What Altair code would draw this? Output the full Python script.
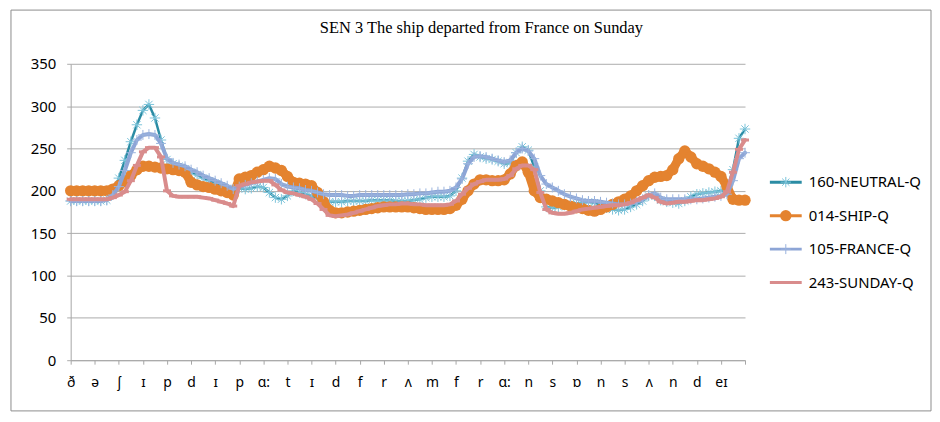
import json
import pandas as pd
import altair as alt

TITLE = "SEN 3 The ship departed from France on Sunday"
PHONEMES = ["ð", "ə", "ʃ", "ɪ", "p", "d", "ɪ", "p", "ɑ:", "t", "ɪ", "d", "f", "r",
            "ʌ", "m", "f", "r", "ɑ:", "n", "s", "ɒ", "n", "s", "ʌ", "n", "d", "eɪ"]
SERIES = ["160-NEUTRAL-Q", "014-SHIP-Q", "105-FRANCE-Q", "243-SUNDAY-Q"]
Y_TICKS = [0, 50, 100, 150, 200, 250, 300, 350]
SAMPLES_PER_SOUND = 4  # pitch samples read every quarter of a sound slot

NEUTRAL = [188, 188, 188, 188, 188, 188, 189,
           196, 215, 236, 258, 278, 295, 302, 286, 260,
           237, 232, 229, 226, 222, 219, 215, 212,
           209, 206, 203, 200,
           203, 202, 203, 205, 204, 198, 192, 190,
           194, 200, 198, 196, 194, 191, 188, 187,
           187, 187, 188, 188, 188, 188, 189, 189,
           189, 189, 188, 188, 188, 189, 190, 192,
           193, 193, 193, 194,
           200, 215, 235, 243, 240, 238, 237, 235,
           232, 233, 245, 252, 248, 228, 200, 181,
           180, 181, 183, 184, 185, 186, 187, 186,
           183, 180, 178, 177, 178, 181, 184, 188,
           194, 194, 189, 187, 186, 185, 188, 193,
           196, 197, 198, 199, 200, 202, 225, 262, 273]

SHIP = [200, 200, 200, 200, 200, 200, 200,
        202, 206, 211, 218, 225, 229, 229, 228, 227,
        226, 225, 224, 222, 210, 207, 205, 204,
        202, 200, 198, 195,
        214, 216, 218, 222, 225, 229, 227, 224,
        217, 210, 209, 208, 206, 198, 187, 177,
        174, 174, 175, 176, 177, 178, 179, 180,
        181, 181, 181, 181, 181, 180, 179, 178,
        178, 178, 178, 179,
        183, 190, 200, 208, 213, 213, 212, 212,
        213, 220, 230, 234, 222, 200, 192, 190,
        188, 186, 184, 182, 180, 179, 177, 176,
        178, 181, 184, 187, 190, 194, 200, 206,
        212, 216, 217, 218, 225, 238, 247, 240,
        232, 229, 226, 222, 217, 205, 190, 189, 189]

FRANCE = [188, 188, 188, 188, 188, 188, 189,
          195, 205, 224, 245, 260, 266, 267, 266, 256,
          238, 233, 231, 229, 225, 222, 218, 215,
          212, 209, 206, 202,
          205, 207, 209, 211, 213, 215, 214, 208,
          205, 204, 203, 201, 200, 198, 196, 195,
          195, 195, 194, 194, 195, 195, 195, 195,
          195, 195, 195, 195, 196, 196, 197, 197,
          198, 199, 199, 200,
          204, 214, 232, 240, 241, 240, 238, 236,
          234, 236, 245, 250, 247, 238, 218, 208,
          204, 200, 196, 193, 191, 189, 188, 188,
          187, 186, 185, 184, 184, 185, 187, 190,
          195, 197, 192, 190, 190, 190, 190, 190,
          190, 191, 192, 193, 194, 196, 212, 238, 245]

SUNDAY = [190, 190, 190, 190, 190, 190, 190,
          192, 195, 199, 212, 230, 246, 251, 251, 240,
          200, 194, 193, 193, 193, 193, 192, 191,
          189, 187, 185, 182,
          206, 208, 210, 211, 212, 212, 207, 201,
          198, 197, 195, 193, 190, 185, 178, 171,
          170, 171, 172, 174, 176, 178, 180, 182,
          183, 184, 184, 185, 185, 184, 184, 183,
          183, 183, 183, 184,
          188, 196, 203, 208, 211, 213, 213, 213,
          214, 218, 226, 230, 230, 225, 198, 178,
          174, 173, 173, 174, 176, 178, 179, 180,
          181, 182, 183, 183, 184, 186, 189, 192,
          195, 192, 187, 185, 186, 187, 187, 188,
          189, 189, 190, 191, 193, 199, 222, 249, 260]

VALUES = {SERIES[0]: NEUTRAL, SERIES[1]: SHIP, SERIES[2]: FRANCE, SERIES[3]: SUNDAY}
for k, v in VALUES.items():
    assert len(v) == len(PHONEMES) * SAMPLES_PER_SOUND + 1, (k, len(v))

# ---- styles (kept apart from the data) ----
ASTERISK = "M-1,0L1,0M0,-1L0,1M-0.7,-0.7L0.7,0.7M-0.7,0.7L0.7,-0.7"
PLUS = "M-1,0L1,0M0,-1L0,1"
DASH = "M-1,0L1,0"
STYLE = {
    SERIES[0]: dict(line="#2B8CA4", lw=2.5, shape=ASTERISK, mstroke="#7CC4DA", mfill=None, size=110, msw=1),
    SERIES[1]: dict(line="#E4832F", lw=9, shape="circle", mstroke="#E4832F", mfill="#E4832F", size=130, msw=0),
    SERIES[2]: dict(line="#8DA5D6", lw=4, shape=PLUS, mstroke="#9AB3DE", mfill=None, size=100, msw=1),
    SERIES[3]: dict(line="#D98C8C", lw=4, shape=DASH, mstroke="#D98C8C", mfill=None, size=64, msw=3),
}

rows = []
for name in SERIES:
    for i, val in enumerate(VALUES[name]):
        rows.append({"series": name, "pos": i / SAMPLES_PER_SOUND, "value": val})
df = pd.DataFrame(rows)

label_expr = "(" + json.dumps(PHONEMES, ensure_ascii=False) + ")[datum.value] || ''"
AXIS_FONT = "Noto Sans"

X = alt.X("pos:Q",
          scale=alt.Scale(domain=[0, len(PHONEMES)], nice=False, zero=False),
          axis=alt.Axis(values=list(range(len(PHONEMES) + 1)), labelExpr=label_expr,
                        title=None, grid=False, tickSize=4, tickColor="#A6A6A6",
                        domainColor="#A6A6A6", labelFont=AXIS_FONT, labelFontSize=14,
                        labelColor="#000000", labelPadding=11, labelOverlap=False,
                        labelFlush=False))
Y = alt.Y("value:Q",
          scale=alt.Scale(domain=[0, 350], nice=False),
          axis=alt.Axis(values=Y_TICKS, title=None, grid=True, gridColor="#ABABAB",
                        tickSize=4, tickColor="#ABABAB", domainColor="#A6A6A6",
                        labelFont=AXIS_FONT, labelFontSize=15, labelColor="#000000",
                        labelPadding=11))

layers = []
for name in SERIES:
    st = STYLE[name]
    base = alt.Chart(df).transform_filter(alt.datum.series == name)
    layers.append(base.mark_line(color=st["line"], strokeWidth=st["lw"],
                                 strokeJoin="round", strokeCap="round").encode(x=X, y=Y))
    pkw = dict(shape=st["shape"], size=st["size"], opacity=1, stroke=st["mstroke"])
    if st["mfill"]:
        pkw.update(filled=True, fill=st["mfill"], strokeWidth=0)
    else:
        pkw.update(filled=False, strokeWidth=st["msw"])
    layers.append(base.mark_point(**pkw).encode(x=X, y=Y))

main = alt.layer(*layers).properties(
    width=678, height=298,
    title=alt.TitleParams(TITLE, font="Liberation Serif", fontSize=16.5, fontWeight="normal",
                          color="#000000", anchor="middle", frame="group", dx=74,
                          baseline="alphabetic", offset=7),
)

# ---- legend panel ----
leg_df = pd.DataFrame({"series": SERIES})
LY = alt.Y("series:N", scale=alt.Scale(type="point", domain=SERIES, range=[119, 220], padding=0),
           axis=None)
leg_layers = []
for name in SERIES:
    st = STYLE[name]
    lb = alt.Chart(leg_df).transform_filter(alt.datum.series == name)
    leg_layers.append(lb.mark_rule(color=st["line"], strokeWidth=3).encode(
        x=alt.value(0), x2=alt.value(32), y=LY))
    if name != SERIES[3]:
        pkw = dict(shape=st["shape"], size=st["size"], opacity=1, stroke=st["mstroke"])
        if st["mfill"]:
            pkw.update(filled=True, fill=st["mfill"], strokeWidth=0)
        else:
            pkw.update(filled=False, strokeWidth=st["msw"])
        leg_layers.append(lb.mark_point(**pkw).encode(x=alt.value(16), y=LY))
leg_layers.append(alt.Chart(leg_df).mark_text(
    align="left", baseline="middle", font=AXIS_FONT, fontSize=15, color="#000000"
).encode(x=alt.value(39), y=LY, text="series:N"))
# outer chart border
leg_layers.append(alt.Chart(pd.DataFrame({"f": [0]})).mark_rect(
    fill="#ffffff", fillOpacity=0, stroke="#8C8C8C", strokeWidth=1
).encode(x=alt.value(-763), x2=alt.value(162), y=alt.value(-54), y2=alt.value(349)))

legend = alt.layer(*leg_layers).properties(width=150, height=298)

chart = alt.hconcat(main, legend, spacing=25, bounds="flush").properties(
    padding={"left": 2, "top": 0, "right": 0, "bottom": 1},
    background="#ffffff",
).configure_view(stroke=None)

chart.save("out.html", embed_options={"renderer": "svg", "actions": False})
